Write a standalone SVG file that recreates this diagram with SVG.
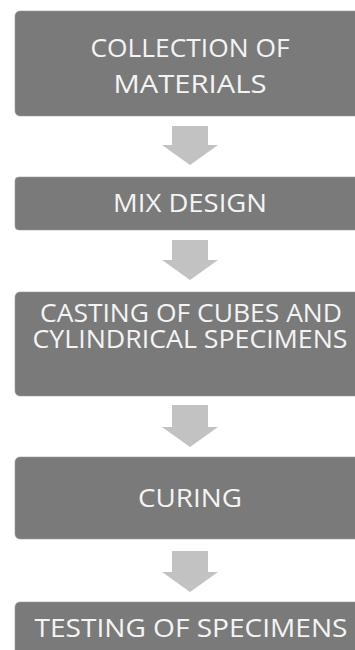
<svg xmlns="http://www.w3.org/2000/svg" width="355" height="650" viewBox="0 0 355 650">
<style>
.box{fill:#7a7a7a;stroke:#9a9a9a;stroke-width:0.6}
.t{font-family:"Open Sans","Liberation Sans",sans-serif;font-size:26px;fill:#f4f4f4;text-anchor:middle}
.arr{fill:#c2c2c2}
</style>
<rect width="355" height="650" fill="#ffffff"/>
<g id="n1"><rect class="box" x="15" y="11" width="350" height="105" rx="5"/>
<text class="t" x="190" y="57" textLength="199" lengthAdjust="spacingAndGlyphs">COLLECTION OF</text>
<text class="t" x="190" y="93" textLength="153" lengthAdjust="spacingAndGlyphs">MATERIALS</text></g>
<g id="n2"><rect class="box" x="15" y="177" width="350" height="53" rx="4"/>
<text class="t" x="190" y="212" textLength="154" lengthAdjust="spacingAndGlyphs">MIX DESIGN</text></g>
<g id="n3"><rect class="box" x="15" y="292" width="350" height="104" rx="5"/>
<text class="t" x="191" y="322" textLength="302" lengthAdjust="spacingAndGlyphs">CASTING OF CUBES AND</text>
<text class="t" x="190" y="348" textLength="315" lengthAdjust="spacingAndGlyphs">CYLINDRICAL SPECIMENS</text></g>
<g id="n4"><rect class="box" x="15" y="457" width="350" height="82" rx="5"/>
<text class="t" x="190" y="507" textLength="104" lengthAdjust="spacingAndGlyphs">CURING</text></g>
<g id="n5"><rect class="box" x="15" y="602" width="350" height="60" rx="5"/>
<text class="t" x="191" y="637" textLength="313" lengthAdjust="spacingAndGlyphs">TESTING OF SPECIMENS</text></g>
<g id="connectors">
<polygon class="arr" points="172,126 208,126 208,145 218,145 190,165 162,145 172,145"/>
<polygon class="arr" points="172,240 208,240 208,260 218,260 190,280 162,260 172,260"/>
<polygon class="arr" points="172,405 208,405 208,427 218,427 190,447 162,427 172,427"/>
<polygon class="arr" points="172,551 208,551 208,572 218,572 190,592 162,572 172,572"/>
</g>
</svg>
